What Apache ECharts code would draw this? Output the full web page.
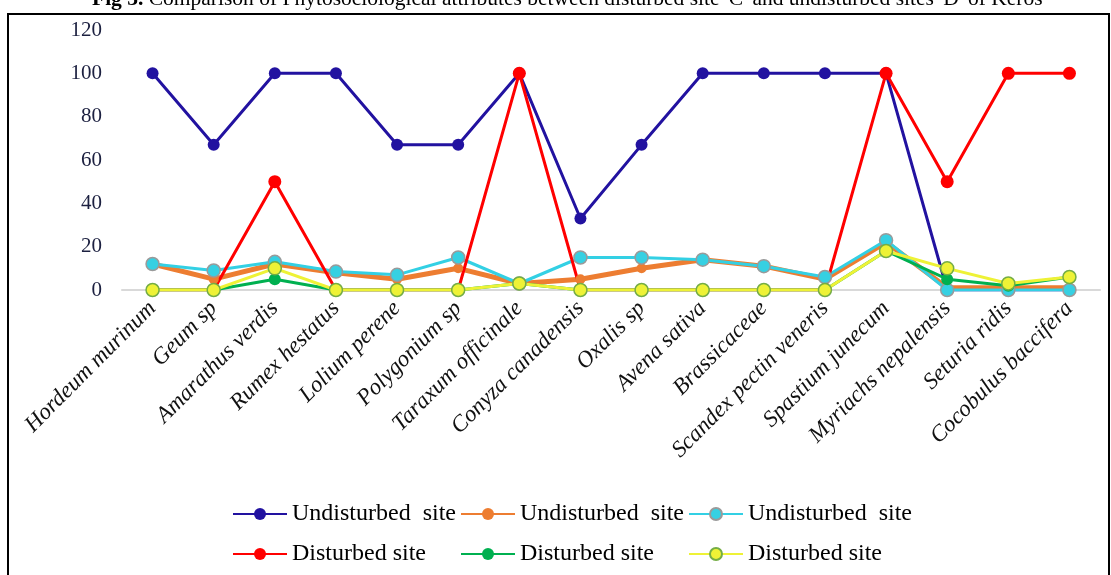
<!DOCTYPE html>
<html>
<head>
<meta charset="utf-8">
<script src="https://cdn.jsdelivr.net/npm/echarts@6/dist/echarts.min.js"></script>
<style>
  html, body { margin: 0; padding: 0; background: #fff; }
  #chart { width: 1111px; height: 575px; }
</style>
</head>
<body>
<div id="chart"></div>
<script>
// Species sampled at each site
const categories = [
  'Hordeum murinum', 'Geum sp', 'Amarathus verdis', 'Rumex hestatus',
  'Lolium perene', 'Polygonium sp', 'Taraxum officinale', 'Conyza canadensis',
  'Oxalis sp', 'Avena sativa', 'Brassicaceae', 'Scandex pectin veneris',
  'Spastium junecum', 'Myriachs nepalensis', 'Seturia ridis', 'Cocobulus baccifera'
];

// Phytosociological attributes, undisturbed site (three attributes)
const undisturbedA = [100, 67, 100, 100, 67, 67, 100, 33, 67, 100, 100, 100, 100, 0, 0, 0];
const undisturbedB = [12, 5, 12, 8, 5, 10, 3, 5, 10, 14, 11, 5, 22, 1, 1, 1];
const undisturbedC = [12, 9, 13, 8.5, 7, 15, 3, 15, 15, 14, 11, 6, 23, 0, 0, 0];

// Same attributes, disturbed site
const disturbedA = [0, 0, 50, 0, 0, 0, 100, 0, 0, 0, 0, 0, 100, 50, 100, 100];
const disturbedB = [0, 0, 5, 0, 0, 0, 3, 0, 0, 0, 0, 0, 18, 5, 2, 6];
const disturbedC = [0, 0, 10, 0, 0, 0, 3, 0, 0, 0, 0, 0, 18, 10, 3, 6];

const yTicks = { min: 0, max: 120, step: 20 };

const titleText = "Comparison of Phytosociological attributes between disturbed site 'C' and undisturbed sites 'D' of Keros";

// Series keys and the text shown for each in the legend
const legendText = {
  uA: 'Undisturbed  site', uB: 'Undisturbed  site', uC: 'Undisturbed  site',
  dA: 'Disturbed site', dB: 'Disturbed site', dC: 'Disturbed site'
};

const serif = '"Liberation Serif", "Times New Roman", serif';

function lineSeries(key, data, color, width, marker) {
  return {
    name: key,
    type: 'line',
    data: data,
    symbol: 'circle',
    symbolSize: marker.size,
    showSymbol: true,
    lineStyle: { color: color, width: width },
    itemStyle: {
      color: marker.fill,
      borderColor: marker.border || marker.fill,
      borderWidth: marker.border ? 1.5 : 0
    },
    emphasis: { disabled: true },
    animation: false
  };
}

const series = [
  lineSeries('uA', undisturbedA, '#2212a0', 3, { size: 12, fill: '#2212a0' }),
  lineSeries('uB', undisturbedB, '#ed7d31', 5, { size: 10, fill: '#ed7d31' }),
  lineSeries('uC', undisturbedC, '#33d0e4', 3, { size: 13, fill: '#36d0e2', border: '#9a9a9a' }),
  lineSeries('dA', disturbedA, '#ff0000', 3, { size: 13, fill: '#ff0000' }),
  lineSeries('dB', disturbedB, '#00b050', 3, { size: 12, fill: '#00b050' }),
  lineSeries('dC', disturbedC, '#eef236', 3, { size: 13, fill: '#eef236', border: '#74ad45' })
];

// One legend block per entry, laid out in a 3 x 2 arrangement
const legendCols = [232, 460, 688];
const legendRows = [502, 542];
const legendKeys = [['uA', 'uB', 'uC'], ['dA', 'dB', 'dC']];
const legends = [];
legendKeys.forEach((row, r) => {
  row.forEach((key, c) => {
    legends.push({
      data: [key],
      left: legendCols[c],
      top: legendRows[r],
      padding: 0,
      itemWidth: 54,
      itemHeight: 15,
      selectedMode: false,
      formatter: (name) => legendText[name],
      textStyle: { fontFamily: serif, fontSize: 24, color: '#000' }
    });
  });
});

const chart = echarts.init(document.getElementById('chart'), null, { renderer: 'canvas' });

chart.setOption({
  backgroundColor: '#fff',
  animation: false,
  grid: {
    left: 122, right: 11, top: 30, bottom: 285,
    containLabel: false,
    outerBoundsMode: 'none'
  },
  xAxis: {
    type: 'category',
    data: categories,
    boundaryGap: true,
    axisLine: { show: true, lineStyle: { color: '#d9d9d9', width: 2 } },
    axisTick: { show: false },
    axisLabel: {
      interval: 0,
      rotate: 45,
      margin: 15,
      fontFamily: serif,
      fontStyle: 'italic',
      fontSize: 23,
      color: '#111'
    },
    splitLine: { show: false }
  },
  yAxis: {
    type: 'value',
    min: yTicks.min,
    max: yTicks.max,
    interval: yTicks.step,
    axisLine: { show: false },
    axisTick: { show: false },
    splitLine: { show: false },
    axisLabel: {
      margin: 20,
      fontFamily: serif,
      fontSize: 21,
      color: '#1c2040'
    }
  },
  legend: legends,
  graphic: [
    {
      type: 'rect',
      silent: true,
      shape: { x: 8, y: 14, width: 1101, height: 600 },
      style: { fill: 'none', stroke: '#000', lineWidth: 2 }
    },
    {
      type: 'text',
      silent: true,
      x: 92,
      y: -1,
      style: {
        text: '{b|Fig 3.} ' + titleText,
        font: '21.5px ' + serif,
        fill: '#000',
        verticalAlign: 'middle',
        rich: { b: { fontWeight: 'bold', fontSize: 21.5, fontFamily: serif } }
      }
    }
  ],
  series: series
});
</script>
</body>
</html>
